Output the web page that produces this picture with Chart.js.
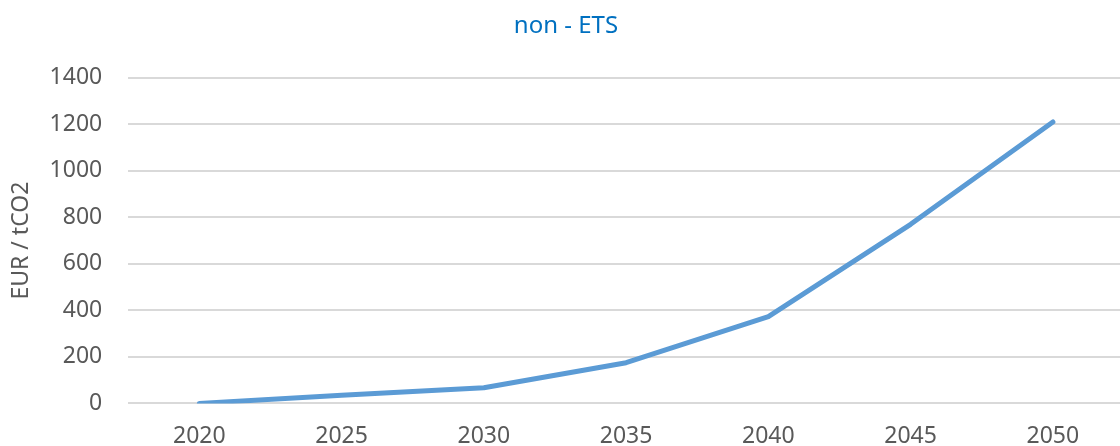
<!DOCTYPE html>
<html>
<head>
<meta charset="utf-8">
<script src="https://cdn.jsdelivr.net/npm/chart.js@4.4.1/dist/chart.umd.min.js"></script>
<style>
    html, body { margin: 0; padding: 0; background: #ffffff; overflow: hidden; }
    #wrap { width: 1124px; height: 446px; }
</style>
</head>
<body>
<div id="wrap"><canvas id="priceChart" width="1124" height="446"></canvas></div>
<script>
const years = ['2020', '2025', '2030', '2035', '2040', '2045', '2050'];
const nonEtsPrice = [0, 35, 67, 175, 373, 770, 1210];
const yTicks = [0, 200, 400, 600, 800, 1000, 1200, 1400];

const ctx = document.getElementById('priceChart');

new Chart(ctx, {
    type: 'line',
    data: {
        labels: years,
        datasets: [{
            label: 'non - ETS',
            data: nonEtsPrice,
            borderColor: '#5B9BD5',
            backgroundColor: '#5B9BD5',
            borderWidth: 5,
            borderCapStyle: 'round',
            borderJoinStyle: 'round',
            pointRadius: 0,
            tension: 0
        }]
    },
    options: {
        responsive: false,
        animation: false,
        layout: {padding: {top: 12, right: 0, bottom: -15, left: 8}},
        plugins: {
            legend: {display: false},
            tooltip: {enabled: false},
            title: {
                display: true,
                text: 'non - ETS',
                color: '#0070C0',
                font: {family: 'Noto Sans', size: 24, weight: 'normal'},
                padding: {top: 0, bottom: 37}
            }
        },
        scales: {
            x: {
                offset: true,
                grid: {display: false},
                border: {display: false},
                ticks: {
                    color: '#595959',
                    font: {family: 'Noto Sans', size: 23},
                    padding: 11,
                    maxRotation: 0
                }
            },
            y: {
                min: 0,
                max: 1400,
                afterBuildTicks: axis => {
                    axis.ticks = yTicks.map(v => ({value: v}));
                },
                grid: {color: '#D9D9D9', lineWidth: 2, drawTicks: false},
                border: {display: false},
                ticks: {
                    color: '#595959',
                    font: {family: 'Noto Sans', size: 23},
                    padding: 26,
                    callback: v => String(v)
                },
                title: {
                    display: true,
                    text: 'EUR / tCO2',
                    color: '#595959',
                    font: {family: 'Noto Sans', size: 23},
                    padding: {top: 0, bottom: -12}
                }
            }
        }
    }
});
</script>
</body>
</html>
